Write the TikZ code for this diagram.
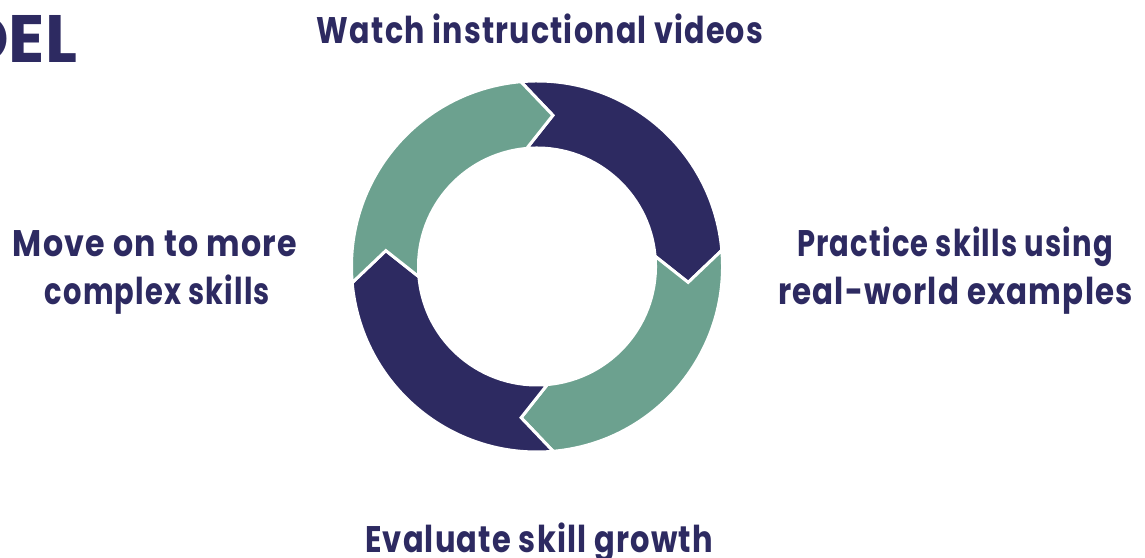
\documentclass[tikz,border=0pt]{standalone}
\usepackage{fontspec}
\setmainfont{Poppins}
\usepackage{graphicx}
\usetikzlibrary{calc}
\definecolor{navy}{RGB}{45,42,97}
\definecolor{sage}{RGB}{108,161,143}
\newcommand{\fitw}[2]{\resizebox{#1}{\height}{\addfontfeature{LetterSpace=4}#2}}
\begin{document}
\begin{tikzpicture}[x=1pt,y=1pt,
  lbl/.style={inner sep=0pt, outer sep=0pt, anchor=base, text=navy, font=\fontsize{37}{40}\selectfont\bfseries},
  seg/.style={draw=white, line width=3pt, line join=miter}]
\useasboundingbox (0,0) rectangle (1145,557);
\begin{scope}
\clip (0,0) rectangle (1145,557);
\node[lbl, anchor=base east, font=\fontsize{67}{70}\selectfont\bfseries] (title) at (77,494) {MODEL};
\end{scope}
\coordinate (c) at (537,290.5);
\foreach \k/\col in {0/navy,1/sage,2/navy,3/sage} {
  \pgfmathsetmacro\s{95-90*\k}
  \pgfmathsetmacro\e{5-90*\k}
  \pgfmathsetmacro\t{\e-11}
  \pgfmathsetmacro\n{\s-11}
  \path[fill=\col, seg] ($(c)+(\s:185.5)$) arc[start angle=\s, end angle=\e, radius=185.5]
    -- ($(c)+(\t:152)$) -- ($(c)+(\e:118.5)$)
    arc[start angle=\e, end angle=\s, radius=118.5]
    -- ($(c)+(\n:152)$) -- cycle;
}
\node[lbl] (watch) at (540,513) {\fitw{446pt}{Watch instructional videos}};
\node[lbl] (prac1) at (955,300.3) {\fitw{316pt}{Practice skills using}};
\node[lbl] (prac2) at (955.5,252) {\fitw{355pt}{real-world examples}};
\node[lbl] (move1) at (155,300) {\fitw{284pt}{Move on to more}};
\node[lbl] (move2) at (157.5,252) {\fitw{225pt}{complex skills}};
\node[lbl] (eval) at (539,5) {\fitw{348pt}{Evaluate skill growth}};
\end{tikzpicture}
\end{document}
